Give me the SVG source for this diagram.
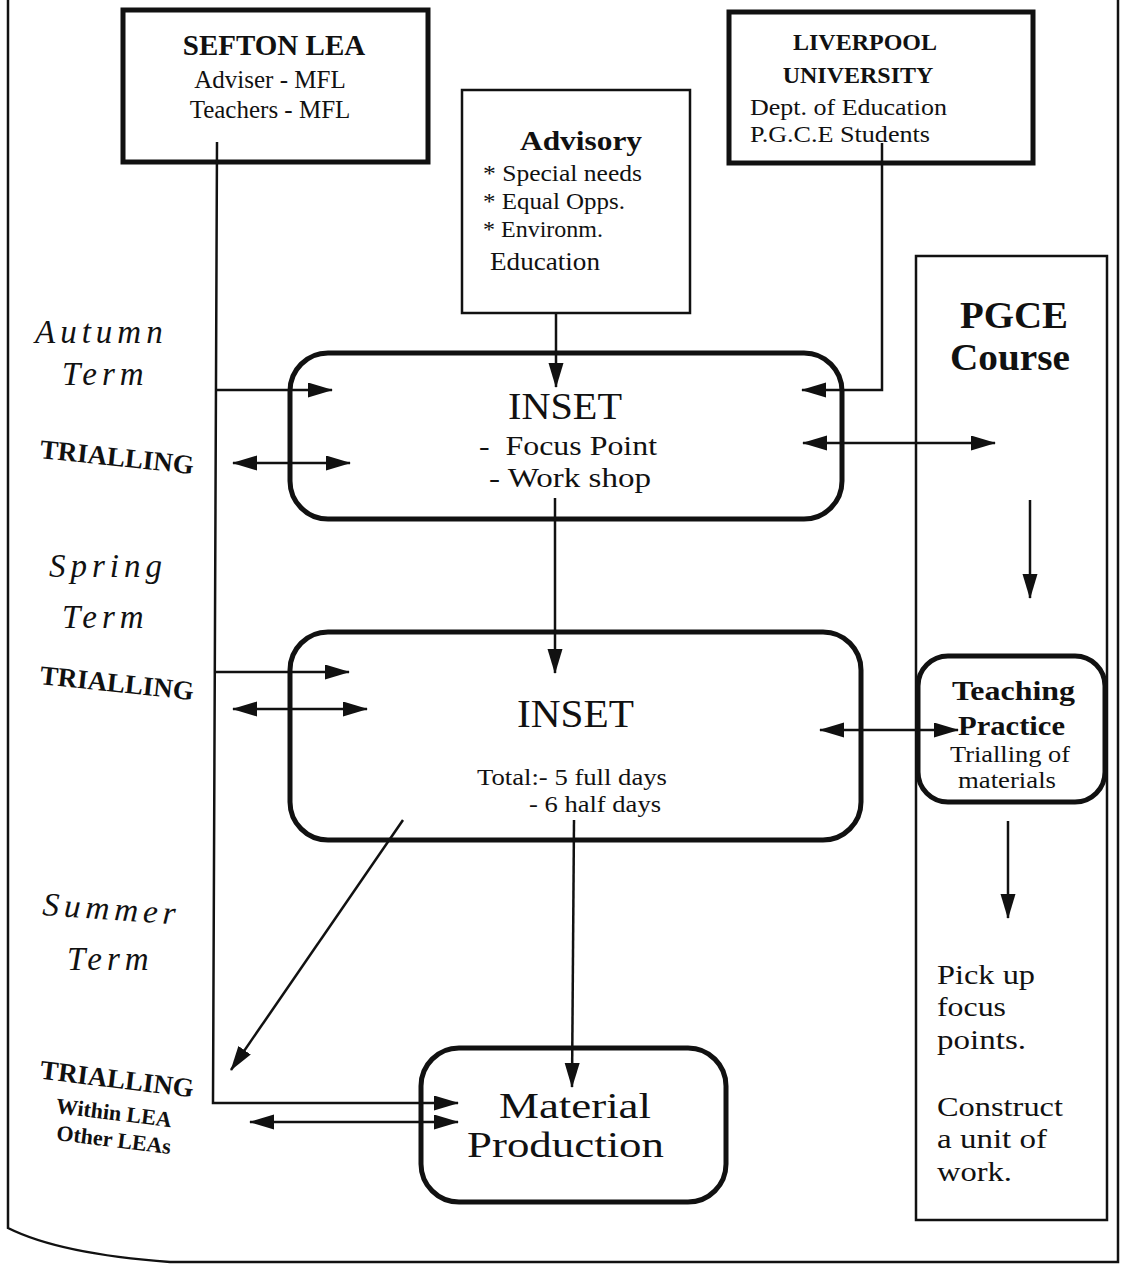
<svg xmlns="http://www.w3.org/2000/svg" width="1121" height="1264" viewBox="0 0 1121 1264">
<style>
text{font-family:"Liberation Serif","Times New Roman",serif;fill:#111}
.b{font-weight:bold}
.it{font-style:italic;letter-spacing:5px}
.box{fill:none;stroke:#111;stroke-width:5}
.thin{fill:none;stroke:#111;stroke-width:2.5}
.c{fill:none;stroke:#111;stroke-width:2.5}
.m{text-anchor:middle}
</style>
<defs>
<marker id="ah" markerUnits="userSpaceOnUse" markerWidth="26" markerHeight="16" refX="24" refY="7.5" orient="auto-start-reverse">
<path d="M0,0 L25,7.5 L0,15 z" fill="#111"/>
</marker>
</defs>
<rect width="1121" height="1264" fill="#fff"/>
<path d="M8,0 L8,1228 Q60,1254 170,1262 L1118,1262 L1118,0" fill="none" stroke="#111" stroke-width="2.5"/>

<g id="labels">
<text class="it" x="35" y="343" font-size="33">Autumn</text>
<text class="it" x="62" y="385" font-size="33">Term</text>
<text class="b m" x="116" y="466" font-size="27" transform="rotate(6 116 466)">TRIALLING</text>
<text class="it" x="49" y="577" font-size="33">Spring</text>
<text class="it" x="62" y="628" font-size="33">Term</text>
<text class="b m" x="116" y="692" font-size="27" transform="rotate(6 116 692)">TRIALLING</text>
<text class="it" x="42" y="915" font-size="33" transform="rotate(4 42 915)">Summer</text>
<text class="it" x="67" y="970" font-size="33">Term</text>
<text class="b m" x="116" y="1088" font-size="27" transform="rotate(7 116 1088)">TRIALLING</text>
<text class="b m" x="113" y="1120" font-size="22" transform="rotate(7 113 1120)">Within LEA</text>
<text class="b m" x="113" y="1147" font-size="22" transform="rotate(7 113 1147)">Other LEAs</text>
</g>

<g id="sefton">
<rect class="box" x="123" y="10" width="305" height="152"/>
<text class="b m" x="274" y="55" font-size="29">SEFTON LEA</text>
<text class="m" x="270" y="88" font-size="25">Adviser - MFL</text>
<text class="m" x="270" y="118" font-size="25">Teachers - MFL</text>
</g>

<g id="advisory">
<rect class="thin" x="462" y="90" width="228" height="223"/>
<text class="b" x="520" y="150" font-size="27" textLength="122" lengthAdjust="spacingAndGlyphs">Advisory</text>
<text x="483" y="181" font-size="23" textLength="159" lengthAdjust="spacingAndGlyphs">* Special needs</text>
<text x="483" y="209" font-size="23" textLength="142" lengthAdjust="spacingAndGlyphs">* Equal Opps.</text>
<text x="483" y="237" font-size="23" textLength="120" lengthAdjust="spacingAndGlyphs">* Environm.</text>
<text x="490" y="270" font-size="26" textLength="110" lengthAdjust="spacingAndGlyphs">Education</text>
</g>

<g id="liverpool">
<rect class="box" x="729" y="12" width="304" height="151"/>
<text class="b m" x="865" y="50" font-size="24">LIVERPOOL</text>
<text class="b m" x="858" y="83" font-size="24">UNIVERSITY</text>
<text x="750" y="115" font-size="24" textLength="197" lengthAdjust="spacingAndGlyphs">Dept. of Education</text>
<text x="750" y="142" font-size="24" textLength="180" lengthAdjust="spacingAndGlyphs">P.G.C.E Students</text>
</g>

<g id="pgce">
<rect class="thin" x="916" y="256" width="191" height="964"/>
<text class="b" x="960" y="328" font-size="38" textLength="108" lengthAdjust="spacingAndGlyphs">PGCE</text>
<text class="b" x="950" y="370" font-size="38" textLength="120" lengthAdjust="spacingAndGlyphs">Course</text>
<text x="937" y="984" font-size="28" textLength="98" lengthAdjust="spacingAndGlyphs">Pick up</text>
<text x="937" y="1016" font-size="28" textLength="69" lengthAdjust="spacingAndGlyphs">focus</text>
<text x="937" y="1049" font-size="28" textLength="89" lengthAdjust="spacingAndGlyphs">points.</text>
<text x="937" y="1116" font-size="28" textLength="126" lengthAdjust="spacingAndGlyphs">Construct</text>
<text x="937" y="1148" font-size="28" textLength="110" lengthAdjust="spacingAndGlyphs">a unit of</text>
<text x="937" y="1181" font-size="28" textLength="75" lengthAdjust="spacingAndGlyphs">work.</text>
</g>

<g id="inset1">
<rect class="box" x="290" y="353" width="552" height="166" rx="38"/>
<text x="508" y="419" font-size="38" textLength="114" lengthAdjust="spacingAndGlyphs">INSET</text>
<text x="479" y="455" font-size="27" textLength="178" lengthAdjust="spacingAndGlyphs" xml:space="preserve">-  Focus Point</text>
<text x="489" y="487" font-size="27" textLength="162" lengthAdjust="spacingAndGlyphs">- Work shop</text>
</g>

<g id="inset2">
<rect class="box" x="290" y="632" width="571" height="208" rx="38"/>
<text x="517" y="727" font-size="39" textLength="117" lengthAdjust="spacingAndGlyphs">INSET</text>
<text x="477" y="785" font-size="24" textLength="190" lengthAdjust="spacingAndGlyphs">Total:- 5 full days</text>
<text x="529" y="812" font-size="24" textLength="132" lengthAdjust="spacingAndGlyphs">- 6 half days</text>
</g>

<g id="teaching">
<rect class="box" x="918" y="656" width="187" height="146" rx="30" stroke-width="4.5"/>
<text class="b" x="952" y="700" font-size="27" textLength="123" lengthAdjust="spacingAndGlyphs">Teaching</text>
<text class="b" x="958" y="735" font-size="27" textLength="107" lengthAdjust="spacingAndGlyphs">Practice</text>
<text x="950" y="762" font-size="23" textLength="120" lengthAdjust="spacingAndGlyphs">Trialling of</text>
<text x="958" y="788" font-size="23" textLength="98" lengthAdjust="spacingAndGlyphs">materials</text>
</g>

<g id="material">
<rect class="box" x="421" y="1048" width="305" height="154" rx="38"/>
<text x="499" y="1118" font-size="35" textLength="152" lengthAdjust="spacingAndGlyphs">Material</text>
<text x="467" y="1157" font-size="35" textLength="197" lengthAdjust="spacingAndGlyphs">Production</text>
</g>

<g id="connectors">
<path class="c" d="M217,142 L213,1103 L458,1103" marker-end="url(#ah)"/>
<path class="c" d="M216,390 L332,390" marker-end="url(#ah)"/>
<path class="c" d="M233,463 L350,463" marker-start="url(#ah)" marker-end="url(#ah)"/>
<path class="c" d="M215,672 L349,672" marker-end="url(#ah)"/>
<path class="c" d="M233,709 L367,709" marker-start="url(#ah)" marker-end="url(#ah)"/>
<path class="c" d="M250,1122 L458,1122" marker-start="url(#ah)" marker-end="url(#ah)"/>
<path class="c" d="M556,313 L556,387" marker-end="url(#ah)"/>
<path class="c" d="M882,143 L882,390 L802,390" marker-end="url(#ah)"/>
<path class="c" d="M803,443 L995,443" marker-start="url(#ah)" marker-end="url(#ah)"/>
<path class="c" d="M555,498 L555,673" marker-end="url(#ah)"/>
<path class="c" d="M820,730 L958,730" marker-start="url(#ah)" marker-end="url(#ah)"/>
<path class="c" d="M574,820 L572,1087" marker-end="url(#ah)"/>
<path class="c" d="M403,820 L231,1070" marker-end="url(#ah)"/>
<path class="c" d="M1030,500 L1030,598" marker-end="url(#ah)"/>
<path class="c" d="M1008,821 L1008,918" marker-end="url(#ah)"/>
</g>
</svg>
